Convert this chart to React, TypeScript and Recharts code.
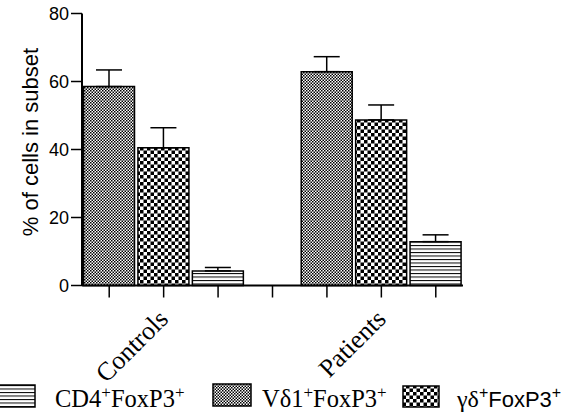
import React from 'react';
import { BarChart, Bar, XAxis, YAxis, ErrorBar, Cell } from 'recharts';

// ---- data ----
const groups = ['Controls', 'Patients'];
const vd1Values = [58.5, 62.9];
const vd1Errors = [4.9, 4.4];
const gdValues = [40.5, 48.7];
const gdErrors = [5.9, 4.4];
const cd4Values = [4.3, 12.9];
const cd4Errors = [1.0, 2.0];
const yTicks = [0, 20, 40, 60, 80];
const seriesKeys = ['vd1', 'gd', 'cd4'];

const seriesData: Record<string, { values: number[]; errors: number[] }> = {
  vd1: { values: vd1Values, errors: vd1Errors },
  gd: { values: gdValues, errors: gdErrors },
  cd4: { values: cd4Values, errors: cd4Errors },
};

const patternFor: Record<string, string> = {
  vd1: 'url(#pVd1)',
  gd: 'url(#pGd)',
  cd4: 'url(#pCd4)',
};

type Row = { slot: string; series: string; label: string; value: number | null; err: number[] | null };
const rows: Row[] = [];
groups.forEach((g, gi) => {
  seriesKeys.forEach((k, si) => {
    rows.push({
      slot: `${g}-${k}`,
      series: k,
      label: si === 1 ? g : '',
      value: seriesData[k].values[gi],
      err: [0, seriesData[k].errors[gi]],
    });
  });
  if (gi < groups.length - 1) rows.push({ slot: 'gap', series: 'gap', label: '', value: null, err: null });
});

const serif = "'Liberation Serif', 'Times New Roman', serif";
const sans = "'Liberation Sans', Arial, sans-serif";

const XTick = (props: any) => {
  const { x, y, index } = props;
  const row = rows[index];
  if (!row || !row.label) return null;
  return (
    <text
      transform={`translate(${x + 6},${y + 21}) rotate(-45)`}
      textAnchor="end"
      fontFamily={serif}
      fontSize={26}
      fill="#000"
    >
      {row.label}
    </text>
  );
};

const YLabel = () => (
  <text
    transform="translate(38,142) rotate(-90)"
    textAnchor="middle"
    fontFamily={sans}
    fontSize={22}
    fill="#000"
  >
    % of cells in subset
  </text>
);

const Patterns = ({ prefix }: { prefix: string }) => (
  <defs>
    <pattern id={`${prefix}Vd1`} patternUnits="userSpaceOnUse" width={3} height={3}>
      <rect width={3} height={3} fill="#fff" />
      <rect x={0} y={0} width={1.5} height={1.5} fill="#000" />
      <rect x={1.5} y={1.5} width={1.5} height={1.5} fill="#000" />
    </pattern>
    <pattern id={`${prefix}Gd`} patternUnits="userSpaceOnUse" width={7} height={7}>
      <rect width={7} height={7} fill="#fff" />
      <rect x={0} y={0} width={3.5} height={3.5} fill="#000" />
      <rect x={3.5} y={3.5} width={3.5} height={3.5} fill="#000" />
    </pattern>
    <pattern id={`${prefix}Cd4`} patternUnits="userSpaceOnUse" width={4} height={3.5}>
      <rect width={4} height={3.5} fill="#fff" />
      <rect x={0} y={0} width={4} height={1} fill="#000" />
    </pattern>
  </defs>
);

const LegendOverlay = () => (
  <svg width={575} height={417} style={{ position: 'absolute', left: 0, top: 0, pointerEvents: 'none' }}>
    <Patterns prefix="l" />
    <rect x={-3} y={385} width={38} height={22} fill="url(#lCd4)" stroke="#000" strokeWidth={1.5} />
    <text x={55} y={407} fontFamily={serif} fontSize={24.5} fill="#000">
      CD4<tspan fontSize={17} dy={-9}>+</tspan>
      <tspan dy={9}>FoxP3</tspan>
      <tspan fontSize={17} dy={-9}>+</tspan>
    </text>
    <rect x={213} y={384} width={38} height={22} fill="url(#lVd1)" stroke="#000" strokeWidth={1.5} />
    <text x={262} y={407} fontFamily={serif} fontSize={24.5} fill="#000">
      Vδ1<tspan fontSize={17} dy={-9}>+</tspan>
      <tspan dy={9}>FoxP3</tspan>
      <tspan fontSize={17} dy={-9}>+</tspan>
    </text>
    <rect x={403} y={386} width={36} height={21} fill="url(#lGd)" stroke="#000" strokeWidth={1.5} />
    <text x={457} y={407} fontFamily={serif} fontSize={24} fill="#000">
      γδ<tspan fontSize={16} dy={-9} fontFamily={sans}>+</tspan>
      <tspan dy={9} fontFamily={sans} fontSize={22}>FoxP3</tspan>
      <tspan fontSize={16} dy={-9} fontFamily={sans}>+</tspan>
    </text>
  </svg>
);

export default function App() {
  return (
    <div style={{ position: 'absolute', left: 0, top: 0, width: 575, height: 417, background: '#fff' }}>
      <BarChart
        width={575}
        height={417}
        data={rows}
        margin={{ top: 13.5, right: 112, left: 0, bottom: 91.5 }}
        barCategoryGap={1.5}
      >
        <Patterns prefix="p" />
        <XAxis
          dataKey="slot"
          type="category"
          allowDuplicatedCategory
          height={40}
          tickSize={12}
          tickLine={{ stroke: '#000', strokeWidth: 1.5 }}
          axisLine={{ stroke: '#000', strokeWidth: 2 }}
          tick={<XTick />}
          interval={0}
        />
        <YAxis
          width={82}
          domain={[0, 80]}
          ticks={yTicks}
          tickSize={11}
          tickMargin={2}
          interval={0}
          axisLine={{ stroke: '#000', strokeWidth: 2 }}
          tickLine={{ stroke: '#000', strokeWidth: 1.5 }}
          tick={{ fill: '#000', fontSize: 18, fontFamily: "'Liberation Sans Narrow', 'Arial Narrow', sans-serif" }}
          label={<YLabel />}
        />
        <Bar dataKey="value" isAnimationActive={false} stroke="#000" strokeWidth={1.5}>
          {rows.map((r, i) => (
            <Cell key={i} fill={patternFor[r.series] || 'none'} />
          ))}
          <ErrorBar dataKey="err" width={13} stroke="#000" strokeWidth={1.5} direction="y" />
        </Bar>
      </BarChart>
      <LegendOverlay />
    </div>
  );
}
